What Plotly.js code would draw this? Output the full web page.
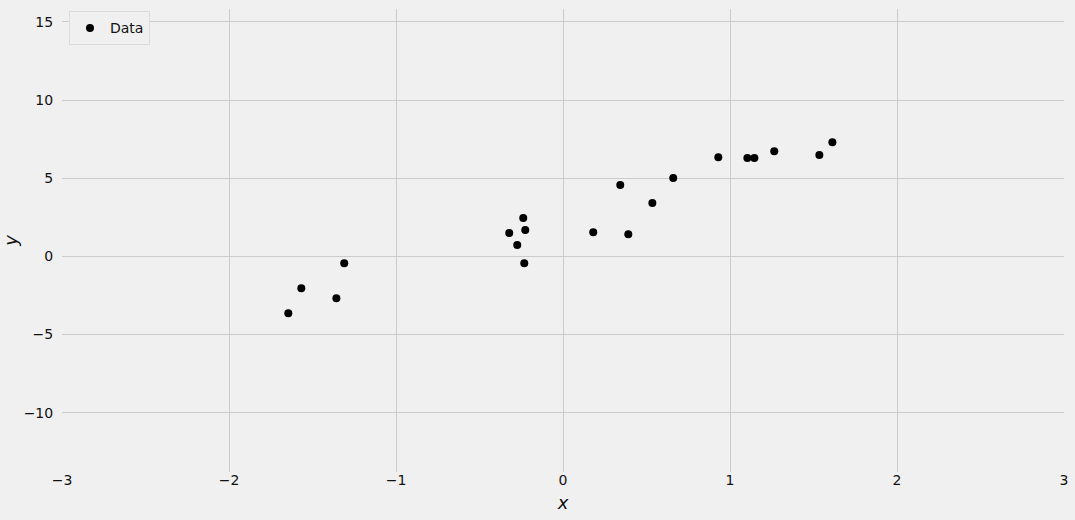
<!DOCTYPE html>
<html>
<head>
<meta charset="utf-8">
<script src="https://cdn.plot.ly/plotly-3.0.1.min.js"></script>
<style>html,body{margin:0;padding:0;background:#f0f0f0;}#chart{width:1075px;height:520px;}</style>
</head>
<body>
<div id="chart"></div>
<script>
const xValues = [-1.645, -1.567, -1.357, -1.310, -0.322, -0.274, -0.238, -0.226, -0.232, 0.181, 0.343, 0.391, 0.535, 0.660, 0.930, 1.104, 1.146, 1.265, 1.535, 1.613];
const yValues = [-3.64, -2.04, -2.68, -0.44, 1.49, 0.72, 2.45, 1.68, -0.44, 1.55, 4.56, 1.42, 3.41, 5.01, 6.35, 6.29, 6.29, 6.73, 6.48, 7.31];
const xTicks = [-3, -2, -1, 0, 1, 2, 3];
const yTicks = [-10, -5, 0, 5, 10, 15];
const seriesName = "Data";

const fmt = v => (v < 0 ? "\u2212" + Math.abs(v) : String(v));

const trace = {
  x: xValues, y: yValues, type: "scatter", mode: "markers", name: seriesName,
  marker: {color: "#000000", size: 8}
};

const font = {family: "DejaVu Sans, sans-serif", size: 14, color: "#111111"};

const layout = {
  width: 1075, height: 520,
  paper_bgcolor: "#f0f0f0", plot_bgcolor: "#f0f0f0",
  margin: {l: 62, r: 11, t: 9, b: 48, pad: 0},
  font: font,
  showlegend: true,
  legend: {
    x: 0.007, y: 0.995, xanchor: "left", yanchor: "top",
    bgcolor: "#f0f0f0", bordercolor: "#dcdcdc", borderwidth: 1,
    font: {family: "DejaVu Sans, sans-serif", size: 14, color: "#111111"},
    itemwidth: 30, tracegroupgap: 0
  },
  xaxis: {
    range: [-3, 3], tickvals: xTicks, ticktext: xTicks.map(fmt),
    showgrid: true, gridcolor: "#cbcbcb", gridwidth: 1.3,
    zeroline: false, showline: false,
    ticks: "", ticklabelstandoff: -2,
    tickfont: font,
    title: {text: "<i>x</i>", font: {family: "DejaVu Sans, sans-serif", size: 18, color: "#111111"}, standoff: 9}
  },
  yaxis: {
    range: [-13.8, 15.83], tickvals: yTicks, ticktext: yTicks.map(fmt),
    showgrid: true, gridcolor: "#cbcbcb", gridwidth: 1.3,
    zeroline: false, showline: false,
    ticks: "outside", ticklen: 5, tickcolor: "rgba(0,0,0,0)",
    tickfont: font,
    title: {text: "<i>y</i>", font: {family: "DejaVu Sans, sans-serif", size: 18, color: "#111111"}, standoff: 14}
  }
};

Plotly.newPlot("chart", [trace], layout, {displayModeBar: false, responsive: false});
</script>
</body>
</html>
